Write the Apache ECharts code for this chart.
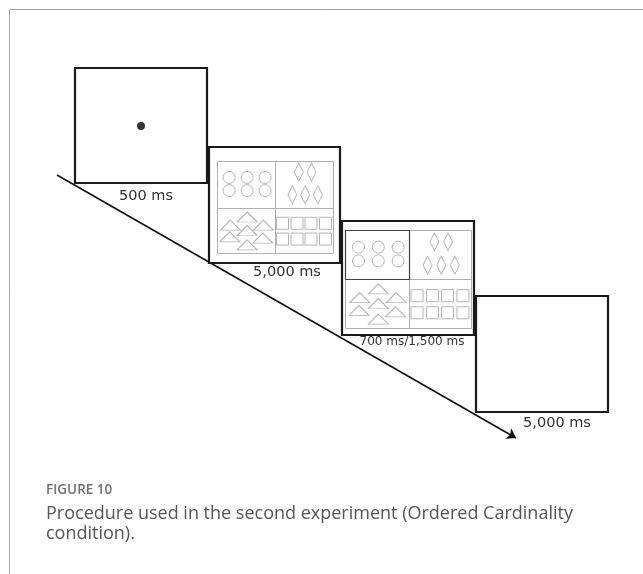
<!DOCTYPE html>
<html>
<head>
<meta charset="utf-8">
<script src="https://cdn.jsdelivr.net/npm/echarts@6/dist/echarts.min.js"></script>
<style>
html,body{margin:0;padding:0;background:#fff}
#main{width:643px;height:574px}
</style>
</head>
<body>
<div id="main"></div>
<script>
// screens of the trial, [left, top, right, bottom]
var screens = [[75,68,207,183],[209,147,340,263],[342,221,474,335],[476,296,608,412]];
var durations = ['500 ms','5,000 ms','700 ms/1,500 ms','5,000 ms'];
var durationPos = [[146,196],[287,272],[412,342],[557,423]];
var fixation = [[141,126]];
var timeline = [[57,175],[516,438]];

// the two stimulus pictures: frame [l,t,r,b] and dividers [x,y]
var stimFrames = [[217,161,333,253],[345,230,471,328]];
var stimDividers = [[275,208],[409,279]];
var highlight = [false, true];

// shapes inside a quadrant, as fractions of the quadrant
var circles = [[0.21,0.35],[0.52,0.35],[0.83,0.35],[0.21,0.63],[0.52,0.63],[0.83,0.63]];
var diamonds = [[0.41,0.24],[0.63,0.24],[0.30,0.72],[0.52,0.72],[0.74,0.72]];
var triangles = [[0.52,0.20],[0.23,0.38],[0.80,0.38],[0.52,0.50],[0.22,0.64],[0.79,0.67],[0.52,0.82]];
var squares = [[0.13,0.34],[0.38,0.34],[0.62,0.34],[0.87,0.34],[0.13,0.69],[0.38,0.69],[0.62,0.69],[0.87,0.69]];

function place(list, quad){
    // quad: 0 TL, 1 TR, 2 BL, 3 BR
    var out = [];
    for(var s=0;s<stimFrames.length;s++){
        var f = stimFrames[s], d = stimDividers[s];
        var x0 = (quad==0||quad==2) ? f[0] : d[0];
        var x1 = (quad==0||quad==2) ? d[0] : f[2];
        var y0 = (quad<2) ? f[1] : d[1];
        var y1 = (quad<2) ? d[1] : f[3];
        for(var i=0;i<list.length;i++){
            out.push([x0+(x1-x0)*list[i][0], y0+(y1-y0)*list[i][1]]);
        }
    }
    return out;
}

var chart = echarts.init(document.getElementById('main'));

function shapeSeries(data, symbol, size){
    return {
        type:'scatter', data:data, symbol:symbol, symbolSize:size, z:5,
        silent:true,
        itemStyle:{color:'rgba(0,0,0,0)', borderColor:'#b4b4b4', borderWidth:1, opacity:1}
    };
}

var option = {
    animation:false,
    grid:{left:0, right:0, top:0, bottom:0},
    xAxis:{type:'value', min:0, max:643, show:false},
    yAxis:{type:'value', min:0, max:574, inverse:true, show:false},
    graphic:[
        {type:'line', shape:{x1:9.5,y1:9.5,x2:643,y2:9.5}, style:{stroke:'#a8a8a8', lineWidth:1}},
        {type:'line', shape:{x1:9.5,y1:9.5,x2:9.5,y2:574}, style:{stroke:'#a8a8a8', lineWidth:1}},
        {type:'text', left:46, top:483, style:{text:'FIGURE 10', font:'600 13.5px "Open Sans"', fill:'#707070'}},
        {type:'text', left:46, top:504, style:{text:'Procedure used in the second experiment (Ordered Cardinality\ncondition).', font:'18px "Open Sans"', fill:'#555', lineHeight:20}}
    ],
    series:[
        {
            type:'lines', coordinateSystem:'cartesian2d', z:1, silent:true,
            symbol:['none','arrow'], symbolSize:9,
            lineStyle:{color:'#111', width:1.6, opacity:1},
            data:[{coords:timeline}]
        },
        {
            type:'custom', z:2, silent:true,
            data:screens,
            renderItem:function(params, api){
                var p0 = api.coord([api.value(0), api.value(1)]);
                var p1 = api.coord([api.value(2), api.value(3)]);
                return {type:'rect', shape:{x:p0[0], y:p0[1], width:p1[0]-p0[0], height:p1[1]-p0[1]},
                    style:{fill:'#fff', stroke:'#1a1a1a', lineWidth:2.2}};
            }
        },
        {
            type:'scatter', z:3, silent:true, data:fixation, symbol:'circle', symbolSize:8,
            itemStyle:{color:'#000'}
        },
        {
            type:'custom', z:4, silent:true,
            data:stimFrames.map(function(f,i){ return f.concat(stimDividers[i]).concat([highlight[i]?1:0]); }),
            renderItem:function(params, api){
                var a = api.coord([api.value(0), api.value(1)]);
                var b = api.coord([api.value(2), api.value(3)]);
                var m = api.coord([api.value(4), api.value(5)]);
                var kids = [
                    {type:'rect', shape:{x:a[0]+0.5, y:a[1]+0.5, width:b[0]-a[0], height:b[1]-a[1]}, style:{fill:'none', stroke:'#b0b0b0', lineWidth:1}},
                    {type:'line', shape:{x1:m[0]+0.5, y1:a[1], x2:m[0]+0.5, y2:b[1]}, style:{stroke:'#b0b0b0', lineWidth:1}},
                    {type:'line', shape:{x1:a[0], y1:m[1]+0.5, x2:b[0], y2:m[1]+0.5}, style:{stroke:'#b0b0b0', lineWidth:1}}
                ];
                if(api.value(6)){
                    kids.push({type:'rect', shape:{x:a[0]+0.5, y:a[1]+0.5, width:m[0]-a[0], height:m[1]-a[1]}, style:{fill:'none', stroke:'#444', lineWidth:1.2}});
                }
                return {type:'group', children:kids};
            }
        },
        shapeSeries(place(circles,0), 'circle', [12,12]),
        shapeSeries(place(diamonds,1), 'diamond', [9,18]),
        shapeSeries(place(triangles,2), 'triangle', [20,10]),
        shapeSeries(place(squares,3), 'rect', [12,12]),
        {
            type:'custom', z:6, silent:true,
            data:durationPos.map(function(p,i){ return [p[0], p[1], i]; }),
            renderItem:function(params, api){
                var p = api.coord([api.value(0), api.value(1)]);
                var txt = durations[api.value(2)];
                return {type:'text', x:p[0], y:p[1],
                    style:{text:txt, align:'center', verticalAlign:'middle', fill:'#333',
                        font:(txt.length>10 ? '12px' : '14.5px')+' "DejaVu Sans", sans-serif'}};
            }
        }
    ]
};
chart.setOption(option);
window.onresize = chart.resize;
</script>
</body>
</html>
